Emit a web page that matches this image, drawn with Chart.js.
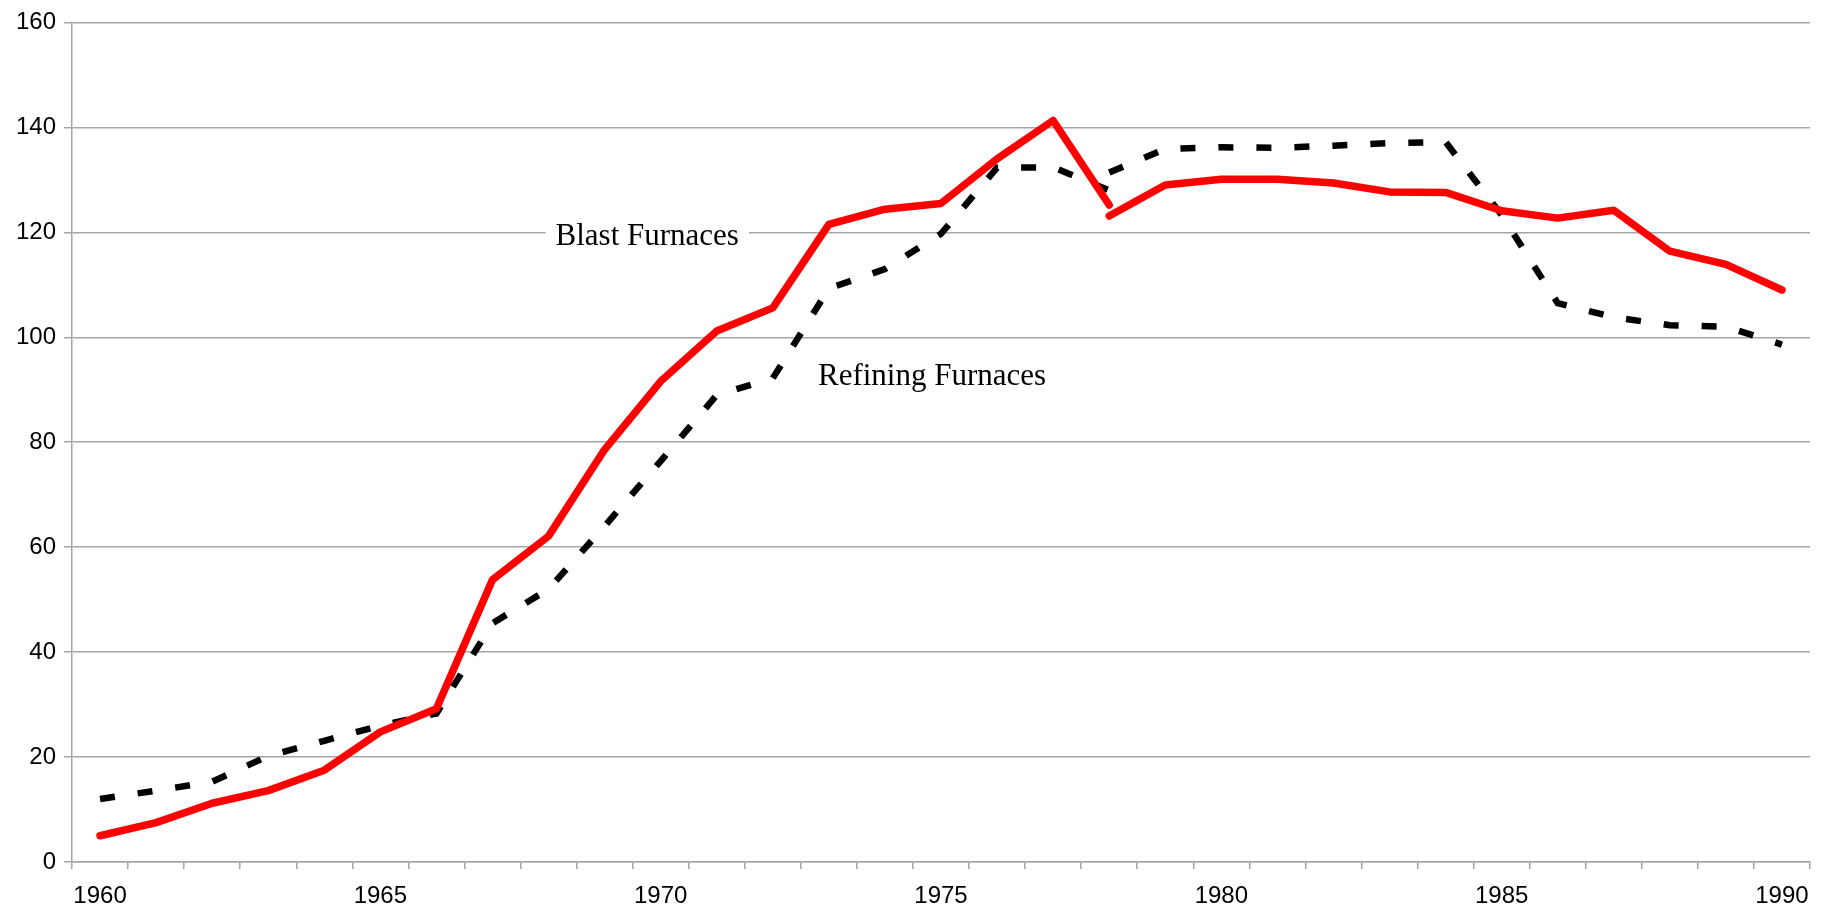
<!DOCTYPE html>
<html>
<head>
<meta charset="utf-8">
<script src="https://cdn.jsdelivr.net/npm/chart.js@4/dist/chart.umd.min.js"></script>
<style>
  html, body { margin: 0; padding: 0; background: #fff; }
  #wrap { width: 1822px; height: 911px; position: relative; }
</style>
</head>
<body>
<div id="wrap"><canvas id="furnaceChart"></canvas></div>
<script>
// years on the category axis
const years = [1960, 1961, 1962, 1963, 1964, 1965, 1966, 1967, 1968, 1969,
               1970, 1971, 1972, 1973, 1974, 1975, 1976, 1977, 1978, 1979,
               1980, 1981, 1982, 1983, 1984, 1985, 1986, 1987, 1988, 1989, 1990];
const yTicks = [0, 20, 40, 60, 80, 100, 120, 140, 160];

// blast furnaces: the line breaks at 1978 (two readings for that year)
const blastEarly = [5.0, 7.5, 11.2, 13.6, 17.5, 24.8, 29.2, 53.8, 62.1, 78.6,
                    91.6, 101.2, 105.6, 121.5, 124.4, 125.5, 134.0, 141.3, 125.2];
const blastLate = [123.1, 129.0, 130.1, 130.1, 129.4, 127.7, 127.6, 124.1, 122.7,
                   124.2, 116.4, 113.9, 109.0];

// refining furnaces, same break at 1978
const refiningEarly = [12.0, 13.6, 15.3, 20.2, 23.1, 26.0, 28.3, 45.5, 52.0, 64.0,
                       76.4, 89.0, 92.2, 109.3, 113.0, 119.7, 132.3, 132.4, 128.0];
const refiningLate = [131.4, 135.9, 136.2, 136.1, 136.5, 137.0, 137.2, 123.3, 106.5,
                      103.8, 102.3, 102.0, 98.6];

function early(arr) {
    return arr.concat(new Array(years.length - arr.length).fill(null));
}
function late(arr) {
    return new Array(years.length - arr.length).fill(null).concat(arr);
}

const gridColor = '#a6a6a6';
const tickFont = { family: '"Liberation Sans", Arial, sans-serif', size: 24 };

// in-chart series names, anchored to (category index, value)
const seriesLabels = [
    { text: 'Blast Furnaces', at: 9.76, value: 119.1, box: true },
    { text: 'Refining Furnaces', at: 14.84, value: 92.5, box: false }
];

const labelPlugin = {
    id: 'seriesLabels',
    beforeDatasetsDraw(chart) {
        const ctx = chart.ctx;
        const xs = chart.scales.x, ys = chart.scales.y;
        ctx.save();
        ctx.font = '31px "Liberation Serif", "Times New Roman", serif';
        ctx.textAlign = 'center';
        ctx.textBaseline = 'middle';
        seriesLabels.forEach(l => {
            const px = xs.getPixelForValue(l.at);
            const py = ys.getPixelForValue(l.value);
            if (l.box) {
                const w = ctx.measureText(l.text).width + 20;
                ctx.fillStyle = '#fff';
                ctx.fillRect(px - w / 2, py - 18, w, 36);
            }
            ctx.fillStyle = '#000';
            ctx.fillText(l.text, px, py);
        });
        ctx.restore();
    }
};

function lineSet(label, data, color, width, dash) {
    return {
        label: label,
        data: data,
        borderColor: color,
        borderWidth: width,
        borderDash: dash,
        borderJoinStyle: dash.length ? 'miter' : 'round',
        borderCapStyle: dash.length ? 'butt' : 'round',
        pointRadius: 0,
        tension: 0,
        spanGaps: false
    };
}

const ctx = document.getElementById('furnaceChart').getContext('2d');
const chart = new Chart(ctx, {
    type: 'line',
    data: {
        labels: years,
        datasets: [
            lineSet('Blast Furnaces', early(blastEarly), '#ff0000', 7.5, []),
            lineSet('Blast Furnaces (from 1978)', late(blastLate), '#ff0000', 7.5, []),
            lineSet('Refining Furnaces', early(refiningEarly), '#000000', 6.5, [15, 23]),
            lineSet('Refining Furnaces (from 1978)', late(refiningLate), '#000000', 6.5, [15, 23])
        ]
    },
    options: {
        responsive: true,
        maintainAspectRatio: false,
        animation: false,
        devicePixelRatio: 1,
        layout: { padding: { top: 20, right: 12, left: 0, bottom: 0 } },
        plugins: {
            legend: { display: false },
            tooltip: { enabled: false }
        },
        scales: {
            x: {
                type: 'category',
                offset: true,
                afterFit: s => { s.height = 49; },
                grid: {
                    offset: true,
                    drawOnChartArea: false,
                    drawTicks: true,
                    tickLength: 7,
                    color: gridColor,
                    lineWidth: 1.5
                },
                border: { display: true, color: gridColor, width: 1.5 },
                ticks: {
                    autoSkip: false,
                    maxRotation: 0,
                    padding: 13,
                    color: '#000',
                    font: tickFont,
                    callback: (v, i) => (years[i] % 5 === 0 ? String(years[i]) : '')
                }
            },
            y: {
                min: yTicks[0],
                max: yTicks[yTicks.length - 1],
                afterFit: s => { s.width = 72; },
                afterBuildTicks: s => { s.ticks = yTicks.map(v => ({ value: v })); },
                grid: {
                    color: gridColor,
                    lineWidth: 1.5,
                    tickLength: 8
                },
                border: { display: true, color: gridColor, width: 1.5 },
                ticks: {
                    padding: 8,
                    color: '#000',
                    font: tickFont
                }
            }
        }
    },
    plugins: [labelPlugin]
});
</script>
</body>
</html>
